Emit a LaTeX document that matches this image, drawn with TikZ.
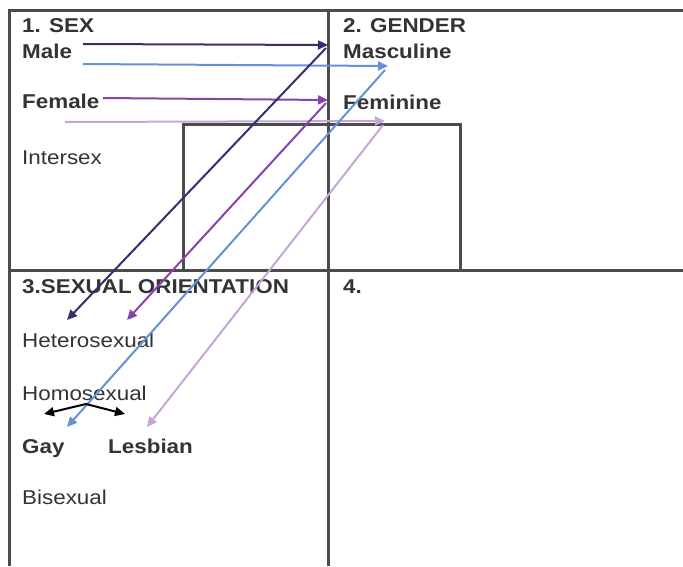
\documentclass[tikz,border=0pt]{standalone}
\usepackage{fontspec}
\setmainfont{Liberation Sans}
\usetikzlibrary{arrows.meta}
\definecolor{navy}{HTML}{352F72}
\definecolor{violet}{HTML}{8543AE}
\definecolor{skyblue}{HTML}{6690D8}
\definecolor{lilac}{HTML}{C6A6D6}
\tikzset{
% Grid lines and two text styles: plain and bold
frame line/.style={draw=black!70,line width=3pt},
plain text/.style={anchor=base west,inner sep=0,text=black!80,xscale=1.12,font=\fontsize{20}{24}\selectfont},
bold text/.style={plain text,font=\fontsize{20}{24}\selectfont\bfseries},
link/.style={line width=2pt,-{Triangle[length=10pt,width=9pt]}}
}

\begin{document}
\begin{tikzpicture}[x=1pt,y=-1pt]
\useasboundingbox (0,0) rectangle (683,566);
% The four boxes and the inner box
\draw[frame line] (683,10) -- (9,10) -- (9,566);
\draw[frame line] (9,270) -- (683,270);
\draw[frame line] (328,10) -- (328,566);
\draw[frame line] (183,270) -- (183,124) -- (460,124) -- (460,270);
% Box 1
\node[bold text] (sex) at (22,32) {1. SEX};
\node[bold text] (male) at (22,58) {Male};
\node[bold text] (female) at (22,108) {Female};
\node[plain text] (intersex) at (22,164) {Intersex};
% Box 2
\node[bold text] (gender) at (343,32) {2. GENDER};
\node[bold text] (masc) at (343,58) {Masculine};
\node[bold text] (fem) at (343,109) {Feminine};
% Box 3
\node[bold text] (orient) at (22,293) {3.SEXUAL ORIENTATION};
\node[plain text] (hetero) at (22,347) {Heterosexual};
\node[plain text] (homo) at (22,400) {Homosexual};
\node[bold text] (gay) at (22,453) {Gay};
\node[bold text] (lesbian) at (108,453) {Lesbian};
\node[plain text] (bi) at (22,504) {Bisexual};
% Box 4
\node[bold text] (four) at (343,293) {4.};
% arrow ends
\coordinate (m1) at (83,44);
\coordinate (m2) at (83,64);
\coordinate (f1) at (103,98);
\coordinate (f2) at (65,122);
\coordinate (mt1) at (328,45);
\coordinate (mt2) at (388,66);
\coordinate (ft1) at (328,100);
\coordinate (ft2) at (385,121);
\coordinate (h1) at (67,320);
\coordinate (h2) at (127,320);
\coordinate (g1) at (67,427);
\coordinate (l1) at (147,427);
\coordinate (split) at (86,404);
\coordinate (gl) at (44,414);
\coordinate (ll) at (125,414);
% Sex to gender
\draw[link,navy] (m1) -- (mt1);
\draw[link,skyblue] (m2) -- (mt2);
\draw[link,violet] (f1) -- (ft1);
\draw[link,lilac] (f2) -- (ft2);
% Gender to orientation
\draw[link,navy] ([shift={(-2,3)}]mt1) -- (h1);
\draw[link,violet] ([shift={(-2,3)}]ft1) -- (h2);
\draw[link,skyblue] ([shift={(-3,4)}]mt2) -- (g1);
\draw[link,lilac] ([shift={(-2,4)}]ft2) -- (l1);
% Homosexual splits
\draw[link,black] (split) -- (gl);
\draw[link,black] (split) -- (ll);
\end{tikzpicture}
\end{document}
